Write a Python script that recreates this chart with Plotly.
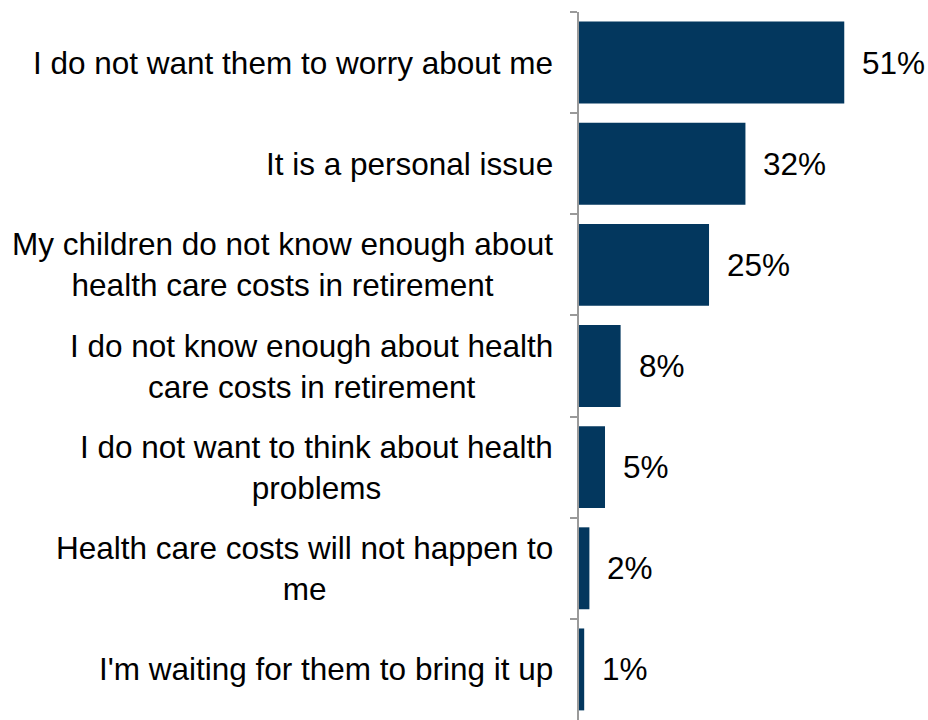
import plotly.graph_objects as go

# Reasons for not discussing health care costs with children
reasons = [
    "I do not want them to worry about me",
    "It is a personal issue",
    "My children do not know enough about<br>health care costs in retirement",
    "I do not know enough about health<br>care costs in retirement",
    "I do not want to think about health<br>problems",
    "Health care costs will not happen to<br>me",
    "I'm waiting for them to bring it up",
]
shares = [51, 32, 25, 8, 5, 2, 1]
value_labels = ["51%", "32%", "25%", "8%", "5%", "2%", "1%"]

FONT = "Liberation Sans, Arial, sans-serif"
BAR_COLOR = "#03375E"
AXIS_COLOR = "#9A9A9A"
TEXT_SIZE = 31.5

fig = go.Figure(
    go.Bar(
        x=shares,
        y=reasons,
        orientation="h",
        marker=dict(color=BAR_COLOR, line=dict(width=0)),
        hoverinfo="skip",
    )
)

annotations = []
# Category labels: right-aligned block, lines centred within it
for r in reasons:
    annotations.append(
        dict(
            x=0, xref="paper", y=r, yref="y",
            text=r, showarrow=False,
            xanchor="right", yanchor="middle", align="center",
            xshift=-24,
            font=dict(family=FONT, size=TEXT_SIZE, color="#000000"),
        )
    )
# Value labels at the end of each bar
for r, v, lab in zip(reasons, shares, value_labels):
    annotations.append(
        dict(
            x=v, xref="x", y=r, yref="y",
            text=lab, showarrow=False,
            xanchor="left", yanchor="middle",
            xshift=16,
            font=dict(family=FONT, size=TEXT_SIZE, color="#000000"),
        )
    )

fig.update_layout(
    width=928,
    height=720,
    margin=dict(l=579, r=0, t=12, b=0),
    paper_bgcolor="white",
    plot_bgcolor="white",
    bargap=0.19,
    showlegend=False,
    font=dict(family=FONT, size=TEXT_SIZE, color="#000000"),
    xaxis=dict(
        range=[0, 67.1],
        visible=False,
        showgrid=False,
        zeroline=False,
    ),
    yaxis=dict(
        type="category",
        categoryorder="array",
        categoryarray=reasons,
        autorange="reversed",
        showticklabels=False,
        showgrid=False,
        zeroline=False,
        showline=True,
        linecolor=AXIS_COLOR,
        linewidth=2,
        ticks="outside",
        tickson="boundaries",
        ticklen=7,
        tickwidth=2,
        tickcolor=AXIS_COLOR,
    ),
    annotations=annotations,
)

fig.write_html("out.html")
